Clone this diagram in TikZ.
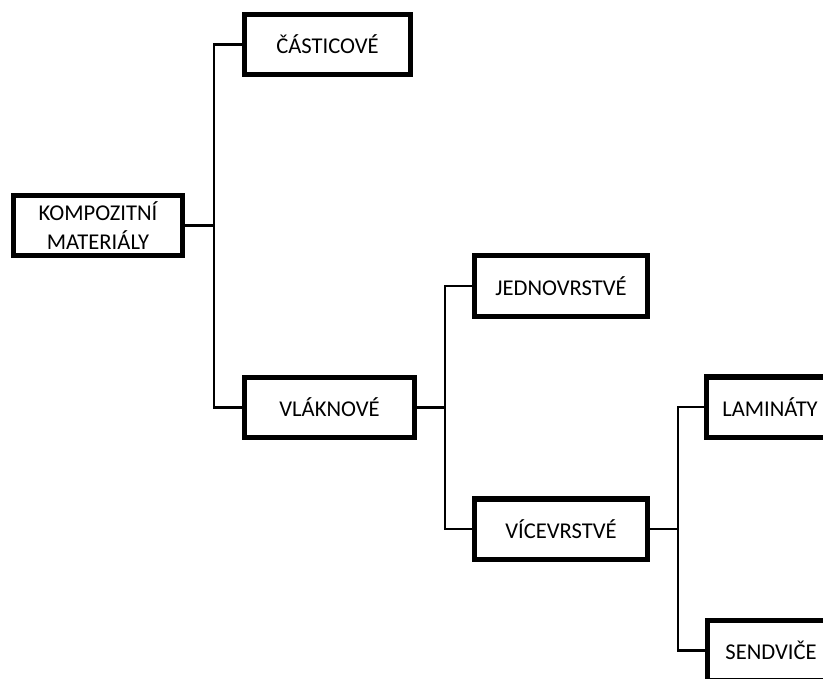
\documentclass[tikz,border=0pt]{standalone}
\usepackage{fontspec}
\setmainfont{Carlito}

\tikzset{
  box/.style  = {draw, line width=5.7pt, fill=white, inner sep=0pt,
                 minimum height=2.4cm, align=center,
                 font=\fontsize{25.7}{33}\selectfont},
  link/.style = {line width=3.2pt}
}

\begin{document}
\begin{tikzpicture}[x=0.04cm, y=-0.04cm]
  \useasboundingbox    (0,0) rectangle (823,679);
  \clip                (0,0) rectangle (823,679);

  % trunks of the tree
  \coordinate (t1) at (214,0);
  \coordinate (t2) at (445,0);
  \coordinate (t3) at (678,0);

  \node[box, minimum width=6.76cm] (komp) at (98,225.5)  {KOMPOZITNÍ\\MATERIÁLY};
  \node[box, minimum width=6.64cm] (cast) at (327.5,44.5) {ČÁSTICOVÉ};
  \node[box, minimum width=6.8cm]  (vlak) at (329.5,407.5) {VLÁKNOVÉ};
  \node[box, minimum width=6.92cm] (jedn) at (561,286)   {JEDNOVRSTVÉ};
  \node[box, minimum width=6.92cm] (vice) at (561,529)   {VÍCEVRSTVÉ};
  \node[box, minimum width=5.08cm] (lam)  at (770,407)   {LAMINÁTY};
  \node[box, minimum width=5.08cm] (send) at (771,650.5) {SENDVIČE};

  \draw[link]          (komp.east) -- ([xshift=1.5]komp.east -| t1);
  \draw[link]          (cast.west) -- (cast.west -| t1) --
                       (vlak.west -| t1) -- (vlak.west);

  \draw[link]          (vlak.east) -- ([xshift=1.5]vlak.east -| t2);
  \draw[link]          (jedn.west) -- (jedn.west -| t2) --
                       (vice.west -| t2) -- (vice.west);

  \draw[link]          (vice.east) -- ([xshift=1.5]vice.east -| t3);
  \draw[link]          (lam.west)  -- (lam.west -| t3) --
                       (send.west -| t3) -- (send.west);
\end{tikzpicture}
\end{document}
